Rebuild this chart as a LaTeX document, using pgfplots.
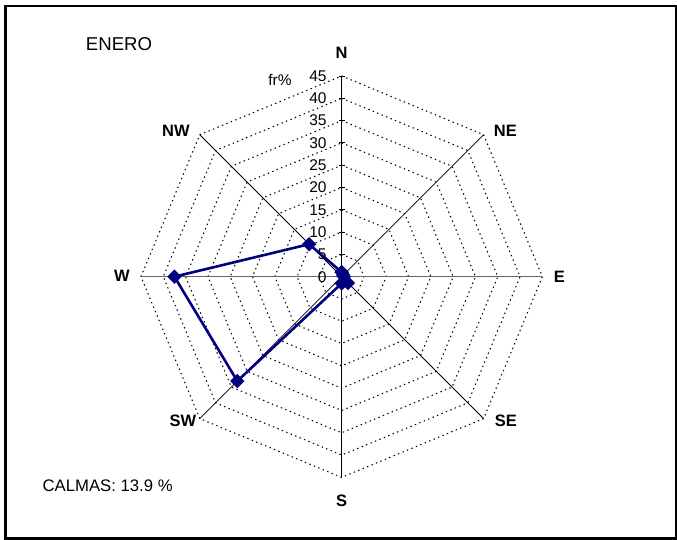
\documentclass[border=0pt]{standalone}
\usepackage{fontspec}
\setmainfont{Liberation Sans}
\usepackage{pgfplots}
\pgfplotsset{compat=1.18}
\definecolor{navy}{RGB}{0,0,128}
\begin{document}
\begin{tikzpicture}
\begin{axis}[
  x=4.46pt, y=4.46pt,
  xmin=-76.61, xmax=75.18, ymin=-59.04, ymax=62.04,
  scale only axis, hide axis, clip=false,
  at={(0,0)}, anchor=south west,
]
% frame
\draw[line width=2.5pt] (axis cs:-75.38,60.70) rectangle (axis cs:74.95,-58.75);
% octagonal grid
\pgfplotsinvokeforeach{5,10,15,20,25,30,35,40,45}{
  \addplot[forget plot, black, line width=1.05pt, dash pattern=on 1.4pt off 3.4pt, data cs=polar]
    coordinates {(90,#1) (45,#1) (0,#1) (-45,#1) (-90,#1) (-135,#1) (180,#1) (135,#1) (90,#1)};
}
% spokes
\addplot[forget plot, black, line width=0.8pt, data cs=polar] coordinates {(45,45) (0,0) (-135,45)};
\addplot[forget plot, black, line width=0.8pt, data cs=polar] coordinates {(135,45) (0,0) (-45,45)};
\addplot[forget plot, black, line width=1pt] coordinates {(0,45) (0,-45)};
\addplot[forget plot, black!60, line width=1.5pt] coordinates {(-45,0) (45,0)};
% value-axis ticks and labels
\pgfplotsinvokeforeach{0,5,10,15,20,25,30,35,40,45}{
  \draw[black, line width=0.8pt] (axis cs:-0.7,#1) -- (axis cs:0.7,#1);
  \node[anchor=east, inner sep=0pt, font=\fontsize{15.5}{18}\selectfont] at (axis cs:-3.36,#1) {#1};
}
\node[font=\fontsize{15.5}{18}\selectfont] at (axis cs:-13.83,44.1) {fr\%};
% series
\addplot[navy, line width=2.6pt, mark=square*, mark size=3.8pt,
  mark options={rotate=45, solid, fill=navy}, data cs=polar]
  coordinates {(90,1) (45,0.5) (0,0.5) (-45,2) (-90,1.5) (-135,33.1) (180,37.5) (135,10.3) (90,1)};
% direction labels
\begin{scope}[every node/.style={font=\fontsize{16.5}{19}\selectfont\bfseries}]
\node at (axis cs:0,50.27) {N};
\node at (axis cs:36.7,32.74) {NE};
\node at (axis cs:48.8,0) {E};
\node at (axis cs:36.84,-32.35) {SE};
\node at (axis cs:0,-50.29) {S};
\node at (axis cs:-35.58,-32.35) {SW};
\node at (axis cs:-49.3,0.1) {W};
\node at (axis cs:-37.15,32.67) {NW};
\end{scope}
\node[font=\fontsize{18.6}{22}\selectfont] at (axis cs:-49.93,52.17) {ENERO};
\node[font=\fontsize{16.7}{20}\selectfont] at (axis cs:-52.47,-46.93) {CALMAS: 13.9 \%};
\end{axis}
\pgfresetboundingbox
\useasboundingbox (0,0) rectangle (677pt,540pt);
\end{tikzpicture}
\end{document}
